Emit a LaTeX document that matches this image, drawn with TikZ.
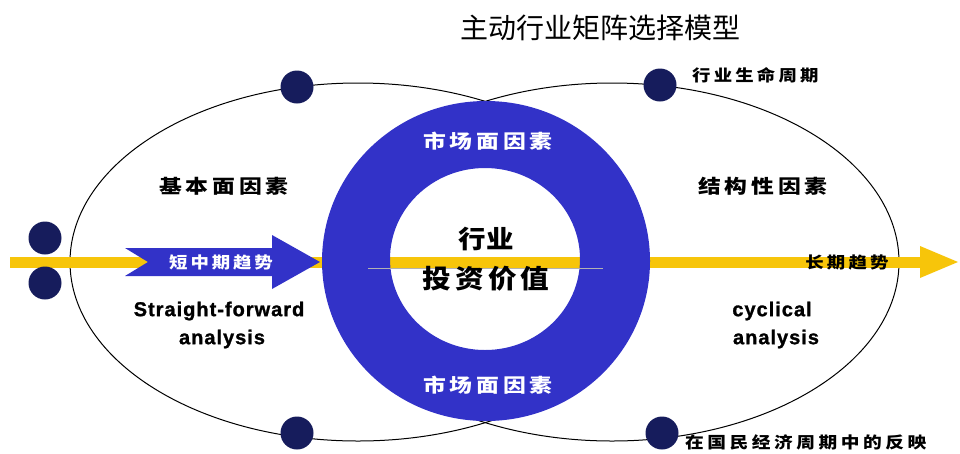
\documentclass[tikz,border=0pt]{standalone}
\usepackage{fontspec}
\newfontfamily\cjk{Noto Sans CJK SC}
\newfontfamily\lat{Liberation Sans}
\definecolor{ringblue}{RGB}{50,50,200}
\definecolor{dotnavy}{RGB}{22,28,92}
\definecolor{gold}{RGB}{247,197,10}
\tikzset{
  dot/.style={circle,fill=dotnavy,minimum size=33pt,inner sep=0pt},
  cn/.style args={#1/#2/#3}{font=\cjk\bfseries\fontsize{#1}{#1}\selectfont\addfontfeature{LetterSpace=#2,FakeStretch=#3},inner sep=0pt},
  en/.style={font=\lat\bfseries\fontsize{20}{20}\selectfont\addfontfeature{LetterSpace=5,FakeBold=1.2},inner sep=0pt},
  oval/.style={draw=black,line width=1pt}
}
\begin{document}
\begin{tikzpicture}[x=1pt,y=-1pt]
\useasboundingbox (0,0) rectangle (960,453);
% ellipses
\draw[oval] (358,262) ellipse [x radius=288,y radius=179];
\draw[oval] (612,262) ellipse [x radius=287,y radius=179];
% yellow axis
\coordinate (ystart) at (10,262);
\coordinate (yend) at (922,262);
\draw[gold,line width=11pt] (ystart) -- (yend);
\fill[gold] (920,246) -- (958,262) -- (920,278) -- cycle;
% blue short arrow
\fill[ringblue] (125,248) -- (272,248) -- (272,235) -- (320,262) -- (272,289) -- (272,276) -- (125,276) -- (148,262) -- cycle;
% ring
\fill[ringblue,even odd rule] (486,261) ellipse [x radius=164,y radius=160]
  (485,259) ellipse [x radius=95,y radius=91];
\draw[gray!60,line width=1pt] (368,268) -- (603,268);
% dots
\node[dot] (l1) at (45,238) {};
\node[dot] (l2) at (45,283) {};
\node[dot] (tl) at (297,87) {};
\node[dot] (tr) at (660,85) {};
\node[dot] (bl) at (297,433) {};
\node[dot] (br) at (662,433) {};
% texts
\node[font=\cjk\fontsize{28}{28}\selectfont,inner sep=0pt] (title) at (600,28) {主动行业矩阵选择模型};
\node[cn=19/20/1.2] (jb) at (224,186) {基本面因素};
\node[cn=19/20/1.2] (jg) at (763,186) {结构性因素};
\node[cn=19/20/1.2,white] (sc1) at (488,141) {市场面因素};
\node[cn=19/20/1.2,white] (sc2) at (488,385) {市场面因素};
\node[cn=25/4/1.1] (hy) at (486,239) {行业};
\node[cn=26/16/1.1] (tz) at (486,279) {投资价值};
\node[cn=16/18/1.15,white] (dz) at (221,262) {短中期趋势};
\node[cn=16/20/1.15] (cq) at (847,262) {长期趋势};
\node[cn=16/20/1.15,anchor=west] (sm) at (692,75) {行业生命周期};
\node[cn=16/22/1.17,anchor=west] (gm) at (685,442) {在国民经济周期中的反映};
\node[en] (sf1) at (219,311) {Straight-forward};
\node[en] (sf2) at (222,339) {analysis};
\node[en] (cy1) at (772,311) {cyclical};
\node[en] (cy2) at (776,339) {analysis};
\end{tikzpicture}
\end{document}
